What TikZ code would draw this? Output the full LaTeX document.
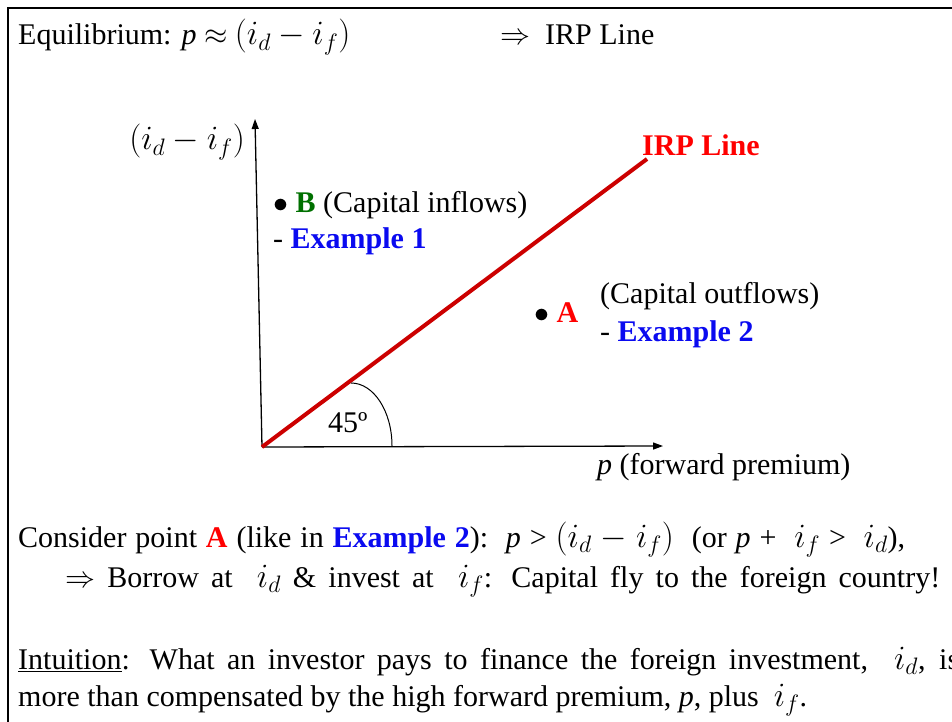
\RequirePackage{fix-cm}
\documentclass[tikz,border=0pt]{standalone}
\usepackage{fontspec}
\setmainfont{Liberation Serif}
\usepackage{xcolor}
\usepackage{tikz}
\usetikzlibrary{arrows.meta}
\definecolor{irpred}{RGB}{204,0,0}
\definecolor{ptred}{RGB}{255,0,0}
\definecolor{bgreen}{RGB}{0,112,0}
\definecolor{exblue}{RGB}{10,10,240}
\newcommand{\mth}[1]{{\fontsize{34}{40}\selectfont$#1$}}
\newcommand{\fwdp}{\textit{p}}

\begin{document}
\begin{tikzpicture}[
    x=1pt, y=-1pt,
    txt/.style={font=\fontsize{30}{36}\selectfont, inner sep=0pt, anchor=base west},
    axis/.style={line width=1.3pt, -{Triangle[length=10pt,width=7pt]}},
    irpline/.style={irpred, line width=4pt}
]
    \useasboundingbox (0,0) rectangle (952,722);
    \draw[line width=2pt] (952,8) -- (8,8) -- (8,722);

    \node[txt] (equil) at (18,45) {Equilibrium: \fwdp\ $\approx$ \mth{(i_d - i_f)}};
    \node[txt] (irpnote) at (500,45) {$\Rightarrow$\ \ IRP Line};

    \coordinate (origin) at (262,447);
    \coordinate (ytop) at (255,119);
    \coordinate (xend) at (663,446);
    \coordinate (irpend) at (647,159);
    \coordinate (arcstart) at (351,383);

    \draw[axis] (origin) -- (ytop);
    \draw[axis] (origin) -- (xend);
    \draw[irpline] (origin) -- (irpend);
    \draw[line width=1pt] (arcstart) arc[start angle=-90, end angle=0, x radius=41, y radius=63];

    \node[txt, anchor=base east] (ylabel) at (245,150) {\mth{(i_d - i_f)}};
    \node[txt, text=ptred] (irplabel) at (642,156) {\textbf{IRP Line}};
    \node[txt] (pointB) at (273,212) {$\bullet$ \textcolor{bgreen}{\textbf{B}} (Capital inflows)};
    \node[txt] (ex1) at (273,248) {- \textcolor{exblue}{\textbf{Example 1}}};
    \node[txt] (pointA) at (534,322) {$\bullet$ \textcolor{ptred}{\textbf{A}}};
    \node[txt] (outflows) at (600,303) {(Capital outflows)};
    \node[txt] (ex2) at (600,341) {- \textcolor{exblue}{\textbf{Example 2}}};
    \node[txt] (angle) at (328,432) {45º};
    \node[txt] (xlabel) at (597,474) {\fwdp\ (forward premium)};

    \node[txt] (consider) at (18,547) {\hbox to 887pt{Consider point \textcolor{ptred}{\textbf{A}} (like in \textcolor{exblue}{\textbf{Example 2}}):\ \ \fwdp\ > \mth{(i_d - i_f)}\ \ (or \fwdp\ + \ \mth{i_f}\ > \ \mth{i_d}),}};
    \node[txt] (borrow) at (65,587) {\hbox to 875pt{$\Rightarrow$ Borrow at \ \mth{i_d} \& invest at \ \mth{i_f}: Capital fly to the foreign country!}};
    \node[txt] (intuition) at (18,669) {\hbox to 941pt{\underline{Intuition}: What an investor pays to finance the foreign investment, \ \mth{i_d}, is}};
    \node[txt] (moreline) at (18,706) {more than compensated by the high forward premium, \fwdp, plus \ \mth{i_f}.};
\end{tikzpicture}
\end{document}
